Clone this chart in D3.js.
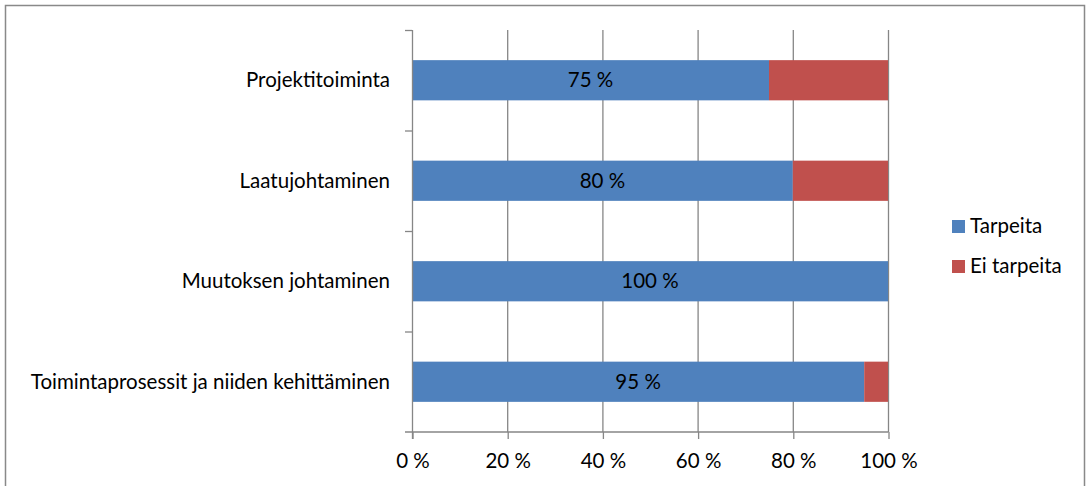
<!DOCTYPE html>
<html>
<head>
<meta charset="utf-8">
<script src="https://cdn.jsdelivr.net/npm/d3@7"></script>
<style>
  body { margin: 0; background: #fff; }
  text { font-family: Lato, "Open Sans", sans-serif; fill: #000; }
</style>
</head>
<body>
<div class="canvas"></div>
<script>
// chart data
const categories = ['Projektitoiminta', 'Laatujohtaminen', 'Muutoksen johtaminen', 'Toimintaprosessit ja niiden kehittäminen'];
const seriesNames = ['Tarpeita', 'Ei tarpeita'];
const tarpeita = [75, 80, 100, 95];
const eiTarpeita = [25, 20, 0, 5];
const xTicks = [0, 20, 40, 60, 80, 100];
const colors = ['#4F81BD', '#C0504D'];

const dims = { width: 1087, height: 486 };
const plot = { left: 412, right: 888, top: 30, bottom: 432 };
const fontSize = '20.5px';

const svg = d3.select('.canvas')
    .append('svg')
    .attr('width', dims.width)
    .attr('height', dims.height);

// outer frame (bottom edge runs off the picture)
svg.append('path')
    .attr('d', `M5.5,${dims.height} V5.5 H1084.5 V${dims.height}`)
    .attr('fill', 'none')
    .attr('stroke', '#898989')
    .attr('stroke-width', 1.5);

const x = d3.scaleLinear()
    .domain([0, 100])
    .range([plot.left, plot.right]);

const y = d3.scaleBand()
    .domain(categories)
    .range([plot.top, plot.bottom])
    .paddingInner(0.6)
    .paddingOuter(0.3);

//gridlines
svg.append('g')
    .selectAll('line')
    .data(xTicks.slice(1))
    .enter()
    .append('line')
        .attr('x1', d => x(d) + 0.5)
        .attr('x2', d => x(d) + 0.5)
        .attr('y1', plot.top)
        .attr('y2', plot.bottom)
        .attr('stroke', '#868686')
        .attr('stroke-width', 1.3);

//stack data
const table = categories.map((c, i) => ({ cat: c, Tarpeita: tarpeita[i], 'Ei tarpeita': eiTarpeita[i] }));
const stack = d3.stack().keys(seriesNames)(table);

const layers = svg.append('g')
    .selectAll('g')
    .data(stack)
    .enter()
    .append('g')
        .attr('fill', (d, i) => colors[i]);

layers.selectAll('rect')
    .data(d => d)
    .enter()
    .append('rect')
        .attr('x', d => x(d[0]))
        .attr('width', d => x(d[1]) - x(d[0]))
        .attr('y', d => y(d.data.cat))
        .attr('height', y.bandwidth());

//value labels on blue segments
svg.append('g')
    .selectAll('text')
    .data(table)
    .enter()
    .append('text')
        .attr('x', d => x(d.Tarpeita / 2))
        .attr('y', d => y(d.cat) + y.bandwidth() / 2)
        .attr('dy', '0.35em')
        .attr('text-anchor', 'middle')
        .style('font-size', fontSize)
        .text(d => `${d.Tarpeita} %`);

//x axis
const xAxis = d3.axisBottom(x)
    .tickValues(xTicks)
    .tickSize(7)
    .tickSizeOuter(0)
    .tickPadding(0)
    .tickFormat(d => `${d} %`);

const xg = svg.append('g')
    .attr('transform', `translate(0.5, ${plot.bottom})`)
    .call(xAxis);
xg.select('.domain').remove();
xg.selectAll('line').attr('stroke', '#868686').attr('stroke-width', 1.3);
xg.selectAll('text').style('font-size', fontSize).attr('y', 36).attr('dy', null);
xg.append('line')
    .attr('x1', plot.left - 7.5)
    .attr('x2', plot.right)
    .attr('stroke', '#868686')
    .attr('stroke-width', 1.3);

//y axis: ticks at band boundaries
const step = (plot.bottom - plot.top) / categories.length;
const yg = svg.append('g');
yg.append('line')
    .attr('x1', plot.left + 0.5)
    .attr('x2', plot.left + 0.5)
    .attr('y1', plot.top)
    .attr('y2', plot.bottom + 7)
    .attr('stroke', '#868686')
    .attr('stroke-width', 1.3);
yg.selectAll('.tick')
    .data(d3.range(categories.length))
    .enter()
    .append('line')
        .attr('x1', plot.left - 7)
        .attr('x2', plot.left)
        .attr('y1', i => plot.top + i * step + 0.5)
        .attr('y2', i => plot.top + i * step + 0.5)
        .attr('stroke', '#868686')
        .attr('stroke-width', 1.3);
yg.selectAll('text')
    .data(categories)
    .enter()
    .append('text')
        .attr('x', 390)
        .attr('y', d => y(d) + y.bandwidth() / 2)
        .attr('dy', '0.33em')
        .attr('text-anchor', 'end')
        .style('font-size', fontSize)
        .text(d => d);

//legend
const legend = svg.append('g')
    .attr('transform', 'translate(952, 220)');
const items = legend.selectAll('g')
    .data(seriesNames)
    .enter()
    .append('g')
        .attr('transform', (d, i) => `translate(0, ${i * 40})`);
items.append('rect')
    .attr('width', 13)
    .attr('height', 13)
    .attr('fill', (d, i) => colors[i]);
items.append('text')
    .attr('x', 18)
    .attr('y', 13)
    .style('font-size', fontSize)
    .text(d => d);
</script>
</body>
</html>
